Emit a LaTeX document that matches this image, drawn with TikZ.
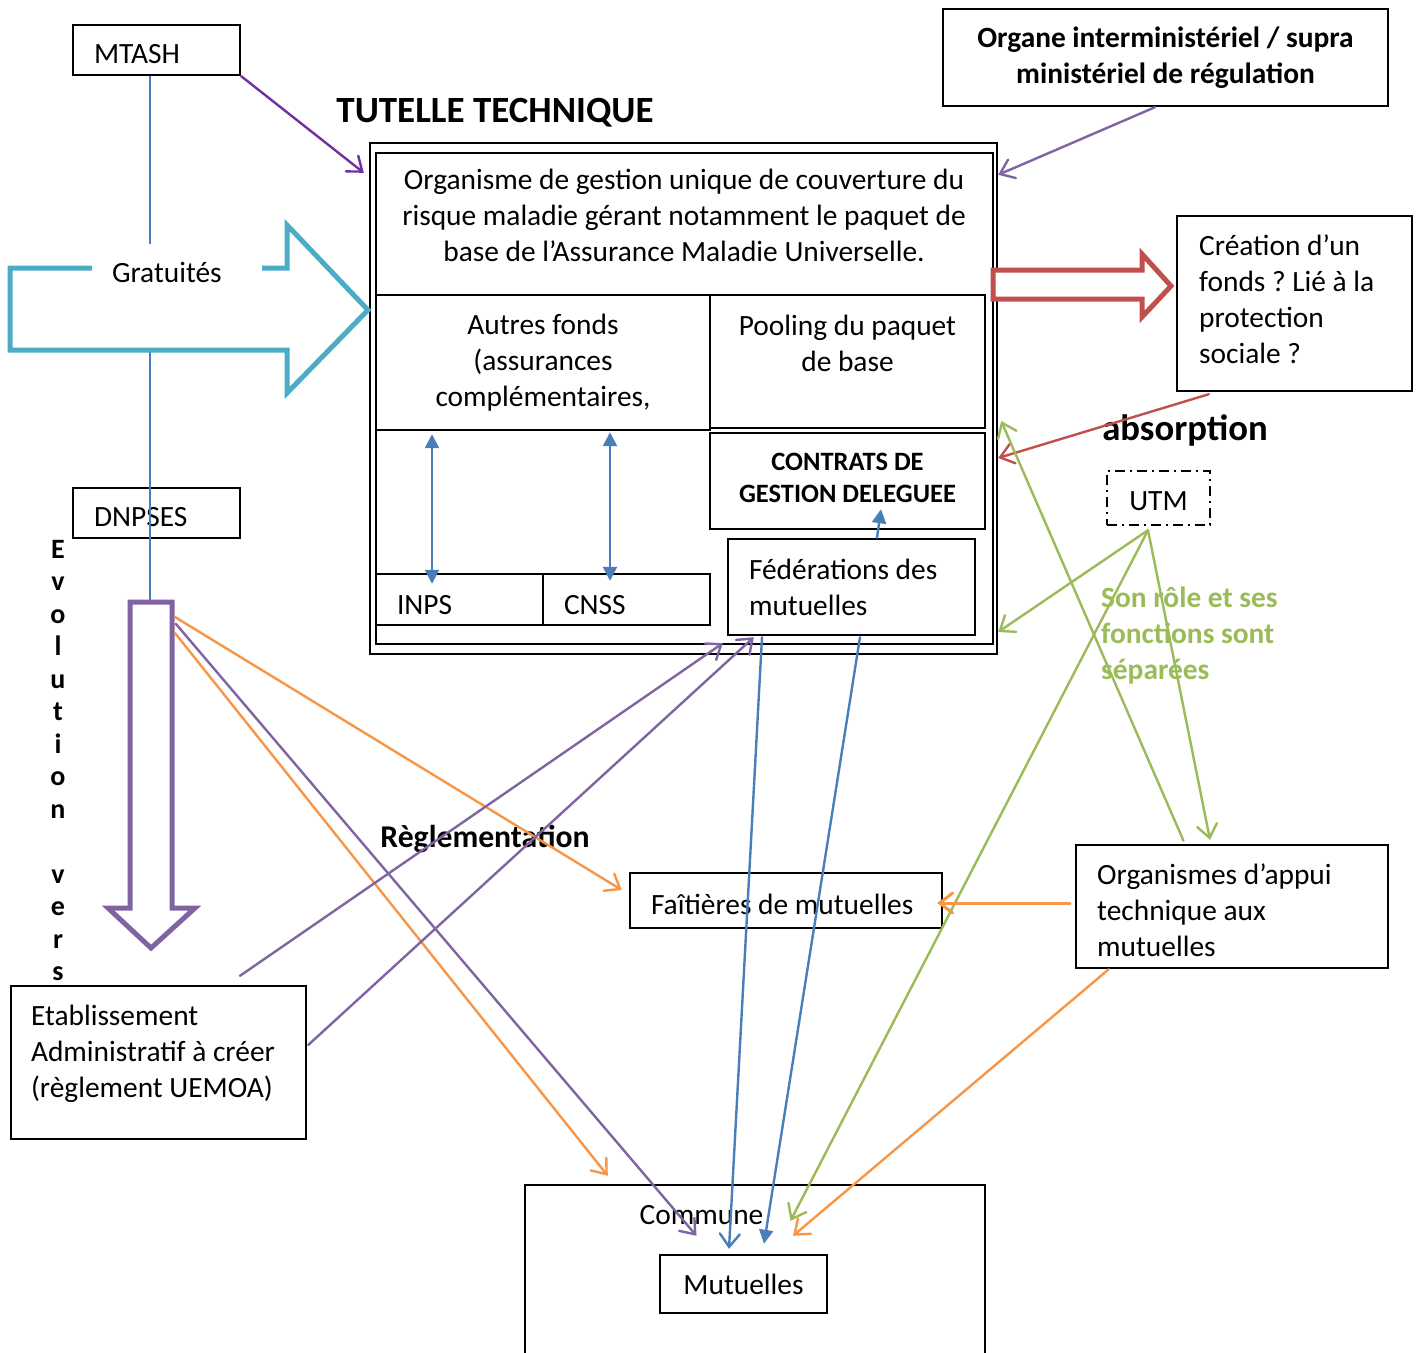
\documentclass[tikz,border=0pt]{standalone}
\usepackage{fontspec}
\setmainfont{Carlito}
\usetikzlibrary{arrows.meta,calc}
\definecolor{tblue}{HTML}{4A7EBB}
\definecolor{tpurple}{HTML}{8064A2}
\definecolor{tviolet}{HTML}{7030A0}
\definecolor{tred}{HTML}{C0504D}
\definecolor{tgreen}{HTML}{9BBB59}
\definecolor{torange}{HTML}{F79646}
\definecolor{tcyan}{HTML}{4BACC6}
\frenchspacing
\begin{document}
\begin{tikzpicture}[x=1pt,y=-1pt,
  every node/.style={execute at begin node={\spaceskip=0pt\xspaceskip=0pt}},
  body/.style={font=\fontsize{29.4}{36}\selectfont},
  boldbody/.style={font=\fontsize{29.4}{36}\selectfont\bfseries},
  box/.style={draw, line width=2.4pt, rectangle, inner sep=0pt, body},
  lbox/.style={box, inner xsep=21pt, align=flush left},
  cbox/.style={box, align=flush center},
  txt/.style={body, inner sep=0pt, anchor=west, align=left},
  conn/.style={line width=2.4pt, line cap=round},
  openhead/.style={-{Straight Barb[length=13pt,width=20pt,line cap=round]}},
  trihead/.style={-{Triangle[length=14pt,width=14pt]}},
  bitri/.style={{Triangle[length=14pt,width=14pt]}-{Triangle[length=14pt,width=14pt]}},
  blockarrow/.style={line width=5pt, fill=white},
  title/.style={font=\fontsize{37}{44}\selectfont\bfseries, inner sep=0pt}
]
\useasboundingbox (0,0) rectangle (1421,1352);

% --- main structure ---
\node[box, minimum width=627pt, minimum height=511pt] (outer) at (683.5,398.5) {};
\node[box, minimum width=617pt, minimum height=491pt] (inner) at (684.5,398.5) {};
\node[body, align=center, inner sep=0pt] (orgtxt) at (684,215)
  {Organisme de gestion unique de couverture du\\risque maladie gérant notamment le paquet de\\base de l’Assurance Maladie Universelle.};
\node[cbox, minimum height=135pt, text width=320pt, inner xsep=7pt] (autres) at (543,362.5)
  {Autres fonds\\(assurances\\complémentaires,};
\node[cbox, minimum height=133pt, text width=261pt, inner xsep=7pt] (pooling) at (847.5,361.5)
  {Pooling du paquet\\de base\\~};
\node[box, minimum width=275pt, minimum height=96pt] (contrats) at (847.5,481) {};
\node[font=\fontsize{26.5}{32}\selectfont\bfseries, align=center, inner sep=0pt] (contratstxt) at (847.5,478)
  {CONTRATS DE\\GESTION DELEGUEE};
\node[lbox, minimum height=96pt, text width=205pt] (fed) at (851.5,587) {Fédérations des\\mutuelles};
\node[lbox, minimum height=51pt, text width=125pt, text height=29pt, text depth=0pt] (inps) at (459.5,599.5) {INPS};
\node[lbox, minimum height=51pt, text width=125pt, text height=29pt, text depth=0pt] (cnss) at (626.5,599.5) {CNSS};

% --- other boxes ---
\node[lbox, minimum height=50pt, text width=125pt, text height=27pt, text depth=0pt] (mtash) at (156.5,50) {MTASH};
\node[lbox, minimum height=50pt, text width=125pt, text height=27pt, text depth=0pt] (dnpses) at (156.5,513) {DNPSES};
\node[cbox, font=\fontsize{29.4}{36}\selectfont\bfseries, minimum height=97pt, text width=420pt, inner xsep=12.5pt] (organe) at (1165.5,57.5)
  {Organe interministériel / supra\\ministériel de régulation};
\node[box, minimum width=235pt, minimum height=175pt] (creation) at (1294.5,303.5) {};
\node[txt] (creationtxt) at (1199,299.5) {Création d’un\\fonds ? Lié à la\\protection\\sociale ?};
\node[box, minimum width=312pt, minimum height=123pt] (organismes) at (1232,906.5) {};
\node[txt] (organismestxt) at (1097,910.5) {Organismes d’appui\\technique aux\\mutuelles};
\node[lbox, minimum height=55pt, text width=270pt, text height=28pt, text depth=0pt] (faitieres) at (786,900.5) {Faîtières de mutuelles};
\node[box, minimum width=460pt, minimum height=180pt] (commune) at (755,1275) {};
\node[body, inner sep=0pt] (communetxt) at (701.5,1215) {Commune};
\node[cbox, minimum height=58pt, text width=147pt, inner xsep=10pt] (mutuelles) at (743.5,1284) {Mutuelles};
\node[box, minimum width=295pt, minimum height=153pt] (etab) at (158.5,1062.5) {};
\node[txt] (etabtxt) at ($(etab.west)+(21,-8.5)$)
  {Etablissement\\Administratif à créer\\(règlement UEMOA)};
\node[box, dash pattern=on 10pt off 5pt on 2pt off 5pt, minimum width=103pt, minimum height=54pt, text height=25pt, text depth=0pt] (utm) at (1158.5,498) {UTM};

% --- free labels ---
\node[title] (tutelle) at (495,113) {TUTELLE TECHNIQUE};
\node[font=\fontsize{36.7}{44}\selectfont\bfseries, inner sep=0pt] (absorption) at (1185,430) {absorption};
\node[font=\fontsize{31.7}{38}\selectfont\bfseries, inner sep=0pt] (regl) at (485,839) {Règlementation};
\node[boldbody, text=tgreen, align=left, inner sep=0pt, anchor=west] (sonrole) at (1101,635)
  {Son rôle et ses\\fonctions sont\\séparées};
\node[font=\fontsize{28}{32.5}\selectfont\bfseries, align=center, inner sep=0pt] (evol) at (58,760.5)
  {E\\v\\o\\l\\u\\t\\i\\o\\n\\~\\v\\e\\r\\s};

% --- blue vertical line MTASH -> evolution arrow ---
\coordinate (evotop) at (150,602);
\draw[line width=2.2pt, tblue] (mtash.south -| evotop) -- (evotop);

% --- block arrows ---
\draw[tcyan, blockarrow] (10,268) -- (287,268) -- (287,225) -- (368,310) -- (287,393) -- (287,350) -- (10,350) -- cycle;
\node[body, fill=white, minimum height=56pt, text width=130pt, inner xsep=20pt, inner ysep=0pt, align=flush left] (gratuites) at (177,272) {Gratuités};
\draw[tpurple, blockarrow] (130,602) -- (172,602) -- (172,908) -- (195,908) -- (151,948) -- (108,908) -- (130,908) -- cycle;
\draw[tred, blockarrow] (993,270) -- (1142,270) -- (1142,254) -- (1171,286) -- (1142,317) -- (1142,299) -- (993,299) -- cycle;

\coordinate (evo1) at (175,617);
\coordinate (evo2) at (175,633);
\coordinate (evo3) at (176,624);

% --- connectors ---
\draw[conn, tviolet, openhead] (mtash.south east) -- ($(outer.north west)+(-5,31)$);
\draw[conn, tpurple, openhead] ($(organe.south)+(-10.5,0)$) -- ($(outer.north east)+(0,33)$);
\draw[conn, tred, openhead] ($(creation.south west)+(33,2)$) -- ($(outer.east)+(0,59.5)$);

\coordinate (utmfoot) at ($(utm.south)+(-10.5,4)$);
\draw[conn, tgreen, openhead] (utmfoot) -- ($(outer.east)+(0,233.5)$);
\draw[conn, tgreen, openhead] (utmfoot) -- ($(organismes.north)+(-22,-4)$);
\draw[conn, tgreen, openhead] (utmfoot) -- ($(mutuelles.north)+(47,-33)$);
\draw[conn, tgreen, openhead] ($(organismes.north)+(-48.5,-3)$) -- ($(outer.east)+(3,22.5)$);

\draw[conn, tblue, bitri] ($(inps.north)+(-27.5,11)$) -- ($(autres.south)+(-111,3)$);
\draw[conn, tblue, bitri] ($(cnss.north)+(-16.5,8)$) -- ($(autres.south)+(67,1)$);
\draw[conn, tblue, trihead] ($(fed.north)+(25.5,0)$) -- ($(contrats.south)+(33.5,-21)$);
\draw[conn, tblue, openhead] ($(fed.south)+(-89.5,1)$) -- ($(mutuelles.north)+(-14.5,-5)$);
\draw[conn, tblue, trihead] ($(fed.south)+(8.5,1)$) -- ($(mutuelles.north)+(20.5,-10)$);

\draw[conn, torange, line width=3pt, openhead] ($(organismes.west)+(-5,-3.5)$) -- ($(faitieres.east)+(-6,2.5)$);
\draw[conn, torange, openhead] ($(organismes.south west)+(34,0)$) -- ($(mutuelles.north)+(49.5,-18)$);
\draw[conn, torange, openhead] (evo1) -- ($(faitieres.west)+(-7,-10.5)$);
\draw[conn, torange, openhead] (evo2) -- ($(commune.north west)+(84,-8)$);

\draw[conn, tpurple, openhead] (evo3) -- ($(mutuelles.north)+(-47,-18)$);
\draw[conn, tpurple, openhead] ($(etab.north)+(81.5,-9)$) -- ($(fed.south west)+(-4,7)$);
\draw[conn, tpurple, openhead] ($(etab.east)+(1,-17.5)$) -- ($(fed.south west)+(27,1)$);
\end{tikzpicture}
\end{document}
